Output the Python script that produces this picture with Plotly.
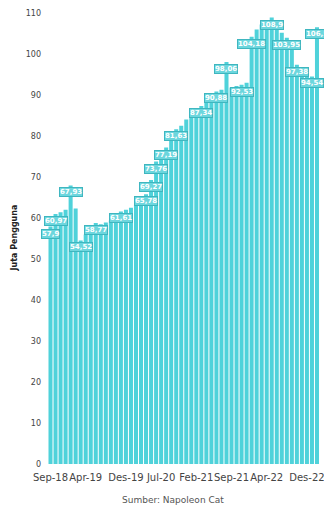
import plotly.graph_objects as go

months = ["Jan", "Feb", "Mar", "Apr", "Mei", "Jun", "Jul", "Agu", "Sep", "Okt", "Nov", "Des"]

# Monthly categories Sep-18 .. Feb-23
categories = []
y0, m0 = 2018, 8
for k in range(54):
    m = (m0 + k) % 12
    yr = y0 + (m0 + k) // 12
    categories.append(f"{months[m]}-{str(yr)[2:]}")

users = [
    57.90, 60.97, 61.40, 62.00, 67.93, 62.30, 54.52, 56.00, 57.60, 58.77,
    58.50, 58.90, 59.40, 60.60, 61.61, 62.00, 62.50, 63.20, 64.30, 65.78,
    69.27, 73.76, 75.60, 77.19, 79.60, 81.63, 82.50, 84.00, 85.00, 86.20,
    87.34, 88.50, 89.70, 90.88, 91.30, 98.06, 91.80, 92.20, 92.53, 93.00,
    104.18, 106.00, 107.20, 108.20, 108.90, 107.00, 105.20, 103.95, 101.50, 97.38,
    96.50, 95.60, 94.54, 106.50,
]

label_text = {
    0: "57,9", 1: "60,97", 4: "67,93", 6: "54,52", 9: "58,77", 14: "61,61",
    19: "65,78", 20: "69,27", 21: "73,76", 23: "77,19", 25: "81,63",
    30: "87,34", 33: "90,88", 35: "98,06", 38: "92,53", 40: "104,18",
    44: "108,9", 47: "103,95", 49: "97,38", 52: "94,54", 53: "106,5",
}

tick_labels = ["Sep-18", "Apr-19", "Des-19", "Jul-20", "Feb-21", "Sep-21", "Apr-22", "Des-22"]

fig = go.Figure()
fig.add_trace(go.Bar(
    x=categories, y=users,
    marker=dict(color="#4fd2da", line=dict(width=0)),
    hoverinfo="skip",
))

annotations = []
for i, txt in label_text.items():
    annotations.append(dict(
        x=categories[i], y=users[i], xref="x", yref="y",
        text=txt, showarrow=False, yanchor="middle", yshift=-7,
        font=dict(family="DejaVu Sans", size=7, color="white", weight="bold"),
        bgcolor="#6cd6dd", bordercolor="#3fb6bf", borderwidth=1, borderpad=0,
    ))

annotations.append(dict(
    x=-0.125, y=0.5, xref="paper", yref="paper", text="Juta Pengguna",
    textangle=-90, showarrow=False, xanchor="center", yanchor="middle",
    font=dict(family="DejaVu Sans", size=8, color="#222", weight="bold"),
))
annotations.append(dict(
    x=0.46, y=-0.08, xref="paper", yref="paper", text="Sumber: Napoleon Cat",
    showarrow=False, xanchor="center", yanchor="middle",
    font=dict(family="DejaVu Sans", size=9, color="#555"),
))

fig.update_layout(
    width=324, height=506,
    margin=dict(l=48, r=0, t=13, b=42),
    paper_bgcolor="white", plot_bgcolor="white",
    bargap=0.2, showlegend=False,
    annotations=annotations,
    xaxis=dict(
        type="category", range=[-0.5, 53.6],
        tickmode="array", tickvals=tick_labels, ticktext=tick_labels,
        tickangle=0, showgrid=False, zeroline=False, showline=False, ticks="",
        ticklabelstandoff=6,
        tickfont=dict(family="DejaVu Sans", size=10, color="#444"),
    ),
    yaxis=dict(
        range=[0, 110], dtick=10, showgrid=False, zeroline=False, showline=False,
        ticks="", ticklabelstandoff=6,
        tickfont=dict(family="DejaVu Sans", size=8, color="#444"),
    ),
)

fig.write_html("out.html")
